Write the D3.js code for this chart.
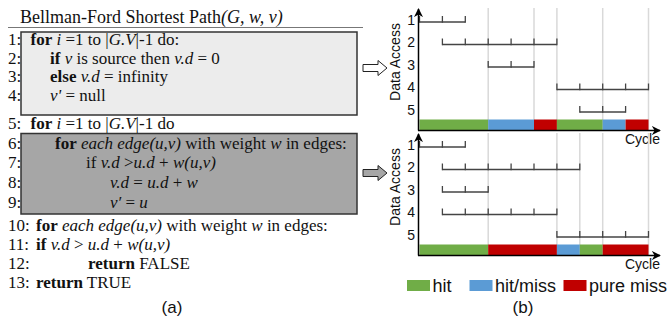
<!DOCTYPE html>
<html>
<head>
<meta charset="utf-8">
<script src="https://cdn.jsdelivr.net/npm/d3@7"></script>
<style>
  body { margin: 0; background: #fff; }
  svg { display: block; }
</style>
</head>
<body>
<script>
const width = 667;
const height = 330;

// ---- data ----
const rows = [1, 2, 3, 4, 5];
const topIntervals = [[0, 2], [1, 6], [3, 5], [6, 10], [7, 9]];
const bottomIntervals = [[0, 2], [1, 7], [1, 3], [1, 6], [6, 10]];
const topSegStart = [0, 3, 5, 6, 8, 9];
const topSegEnd = [3, 5, 6, 8, 9, 10];
const topSegType = ["hit", "hit/miss", "pure miss", "hit", "hit/miss", "pure miss"];
const bottomSegStart = [0, 3, 6, 7, 8];
const bottomSegEnd = [3, 6, 7, 8, 10];
const bottomSegType = ["hit", "pure miss", "hit/miss", "hit", "pure miss"];
const topGrid = [3, 5, 6, 8, 10];
const bottomGrid = [3, 6, 7, 8, 10];
const legendItems = ["hit", "hit/miss", "pure miss"];

// code lines: [number, indent level, [[text, style], ...]]  b = bold, i = italic, n = normal
const codeLines = [
  ["1:", 0, [["for", "b"], [" ", "n"], ["i", "i"], [" =1 to |", "n"], ["G.V", "i"], ["|-1 do:", "n"]]],
  ["2:", 2, [["if", "b"], [" ", "n"], ["v", "i"], [" is source then ", "n"], ["v.d", "i"], [" = 0", "n"]]],
  ["3:", 2, [["else", "b"], [" ", "n"], ["v.d", "i"], [" = infinity", "n"]]],
  ["4:", 2, [["v'", "i"], [" = null", "n"]]],
  ["5:", 0, [["for", "b"], [" ", "n"], ["i", "i"], [" =1 to |", "n"], ["G.V", "i"], ["|-1 do", "n"]]],
  ["6:", 3, [["for", "b"], [" ", "n"], ["each edge(u,v)", "i"], [" with weight ", "n"], ["w", "i"], [" in edges:", "n"]]],
  ["7:", 4, [["if ", "n"], ["v.d", "i"], [" >", "n"], ["u.d", "i"], [" + ", "n"], ["w(u,v)", "i"]]],
  ["8:", 6, [["v.d", "i"], [" = ", "n"], ["u.d", "i"], [" + ", "n"], ["w", "i"]]],
  ["9:", 6, [["v\u2032", "i"], [" = ", "n"], ["u", "i"]]],
  ["10:", 1, [["for", "b"], [" ", "n"], ["each edge(u,v)", "i"], [" with weight ", "n"], ["w", "i"], [" in edges:", "n"]]],
  ["11:", 1, [["if", "b"], [" ", "n"], ["v.d", "i"], [" > ", "n"], ["u.d", "i"], [" + ", "n"], ["w(u,v)", "i"]]],
  ["12:", 5, [["return", "b"], [" FALSE", "n"]]],
  ["13:", 1, [["return", "b"], [" TRUE", "n"]]]
];

const indentX = [30.5, 36, 50, 55, 86, 88, 110];

const colors = { "hit": "#70ad47", "hit/miss": "#5b9bd5", "pure miss": "#c00000" };

const svg = d3.select("body").append("svg")
  .attr("width", width)
  .attr("height", height);

const defs = svg.append("defs");
defs.append("marker")
  .attr("id", "arrow")
  .attr("viewBox", "0 0 10 10")
  .attr("refX", 9).attr("refY", 5)
  .attr("markerWidth", 9).attr("markerHeight", 9)
  .attr("markerUnits", "userSpaceOnUse")
  .attr("orient", "auto")
  .append("path")
  .attr("d", "M0,0 L10,5 L0,10 L3,5 Z")
  .attr("fill", "#000");

// ---- left: algorithm ----
const serif = "'Liberation Serif', 'Times New Roman', serif";
const sans = "'Liberation Sans', Arial, sans-serif";

const left = svg.append("g");

left.append("rect")
  .attr("x", 21).attr("y", 32).attr("width", 336).attr("height", 83)
  .attr("fill", "#ececec").attr("stroke", "#333").attr("stroke-width", 1.5);

left.append("rect")
  .attr("x", 21).attr("y", 133.5).attr("width", 336).attr("height", 80.5)
  .attr("fill", "#a6a6a6").attr("stroke", "#333").attr("stroke-width", 1.5);

const title = left.append("text")
  .attr("x", 20).attr("y", 22.5)
  .attr("font-family", serif).attr("font-size", 18).attr("fill", "#111");
title.append("tspan").text("Bellman-Ford Shortest Path");
title.append("tspan").attr("font-style", "italic").text("(G, w, v)");

left.append("line")
  .attr("x1", 8).attr("x2", 363).attr("y1", 27.5).attr("y2", 27.5)
  .attr("stroke", "#777").attr("stroke-width", 1.2);

const lineY = d3.scaleOrdinal()
  .domain(codeLines.map(d => d[0]))
  .range([45, 63.5, 82, 100.5, 129, 148.5, 168, 188, 208, 231, 250, 269, 288]);

codeLines.forEach(d => {
  const y = lineY(d[0]);
  left.append("text")
    .attr("x", 8).attr("y", y)
    .attr("font-family", serif).attr("font-size", 17).attr("fill", "#111")
    .text(d[0]);
  const t = left.append("text")
    .attr("x", indentX[d[1]]).attr("y", y)
    .attr("font-family", serif).attr("font-size", 17).attr("fill", "#111")
    .attr("xml:space", "preserve")
    .style("white-space", "pre");
  d[2].forEach(p => {
    t.append("tspan")
      .attr("font-weight", p[1] === "b" ? "bold" : "normal")
      .attr("font-style", p[1] === "i" ? "italic" : "normal")
      .text(p[0]);
  });
});

left.append("text")
  .attr("x", 172).attr("y", 313)
  .attr("text-anchor", "middle")
  .attr("font-family", sans).attr("font-size", 17).attr("fill", "#111")
  .text("(a)");

// ---- right: access charts ----
const x = d3.scaleLinear().domain([0, 10]).range([419.5, 648.5]);
const y = d3.scaleLinear().domain([1, 5]).range([20, 110]);

function drawChart(offsetY, intervals, segStart, segEnd, segType, grid, arrowY, arrowFill) {
  const g = svg.append("g").attr("transform", "translate(0," + offsetY + ")");

  // grid lines
  g.selectAll(".grid")
    .data(grid)
    .enter().append("line")
    .attr("x1", d => x(d)).attr("x2", d => x(d))
    .attr("y1", 8).attr("y2", 130)
    .attr("stroke", "#d9d9d9").attr("stroke-width", 1.5);

  // segments bar
  g.selectAll(".seg")
    .data(segStart)
    .enter().append("rect")
    .attr("x", d => x(d))
    .attr("width", (d, i) => x(segEnd[i]) - x(d))
    .attr("y", 119.5).attr("height", 10.5)
    .attr("fill", (d, i) => colors[segType[i]]);

  // intervals with ticks
  intervals.forEach((iv, i) => {
    const yy = y(rows[i]) + 2;
    g.append("line")
      .attr("x1", x(iv[0])).attr("x2", x(iv[1]))
      .attr("y1", yy).attr("y2", yy)
      .attr("stroke", "#444").attr("stroke-width", 1.5);
    g.selectAll(".tk" + i)
      .data(d3.range(iv[0], iv[1] + 1))
      .enter().append("line")
      .attr("x1", d => x(d)).attr("x2", d => x(d))
      .attr("y1", yy - 6).attr("y2", yy + 0.75)
      .attr("stroke", "#444").attr("stroke-width", 1.3);
  });

  // y labels via axis
  const yAxis = g.append("g")
    .attr("transform", "translate(415,0)")
    .call(d3.axisLeft(y).tickValues(rows).tickSize(0).tickPadding(0).tickFormat(d3.format("d")));
  yAxis.select(".domain").remove();
  yAxis.selectAll("text")
    .attr("font-family", sans).attr("font-size", 14).attr("fill", "#111");

  // axes with arrows
  g.append("line")
    .attr("x1", x(0) - 1).attr("x2", x(0) - 1)
    .attr("y1", 130.5).attr("y2", 9)
    .attr("stroke", "#000").attr("stroke-width", 1.5)
    .attr("marker-end", "url(#arrow)");
  g.append("line")
    .attr("x1", x(0) - 1.5).attr("x2", 660)
    .attr("y1", 130.5).attr("y2", 130.5)
    .attr("stroke", "#000").attr("stroke-width", 1.5)
    .attr("marker-end", "url(#arrow)");

  g.append("text")
    .attr("x", 660).attr("y", 144)
    .attr("text-anchor", "end")
    .attr("font-family", sans).attr("font-size", 14).attr("fill", "#111")
    .text("Cycle");

  g.append("text")
    .attr("transform", "translate(400,62) rotate(-90)")
    .attr("text-anchor", "middle")
    .attr("font-family", sans).attr("font-size", 14).attr("fill", "#111")
    .text("Data Access");

  // block arrow from code box
  const ay = arrowY;
  g.append("path")
    .attr("d", "M363," + (ay - 3.5) + " L378," + (ay - 3.5) + " L378," + (ay - 7.5) +
      " L387," + ay + " L378," + (ay + 7.5) + " L378," + (ay + 3.5) + " L363," + (ay + 3.5) + " Z")
    .attr("fill", arrowFill).attr("stroke", "#222").attr("stroke-width", 1);
}

drawChart(0, topIntervals, topSegStart, topSegEnd, topSegType, topGrid, 68, "#fff");
drawChart(125, bottomIntervals, bottomSegStart, bottomSegEnd, bottomSegType, bottomGrid, 48, "#a6a6a6");

// legend
const legendX = d3.scaleOrdinal().domain(legendItems).range([407, 469.5, 563.5]);
const legend = svg.append("g");
legendItems.forEach(k => {
  legend.append("rect")
    .attr("x", legendX(k)).attr("y", 280).attr("width", 23).attr("height", 11)
    .attr("fill", colors[k]);
  legend.append("text")
    .attr("x", legendX(k) + 25.5).attr("y", 292)
    .attr("font-family", sans).attr("font-size", 18).attr("fill", "#111")
    .text(k);
});

svg.append("text")
  .attr("x", 523).attr("y", 313)
  .attr("text-anchor", "middle")
  .attr("font-family", sans).attr("font-size", 17).attr("fill", "#111")
  .text("(b)");
</script>
</body>
</html>
